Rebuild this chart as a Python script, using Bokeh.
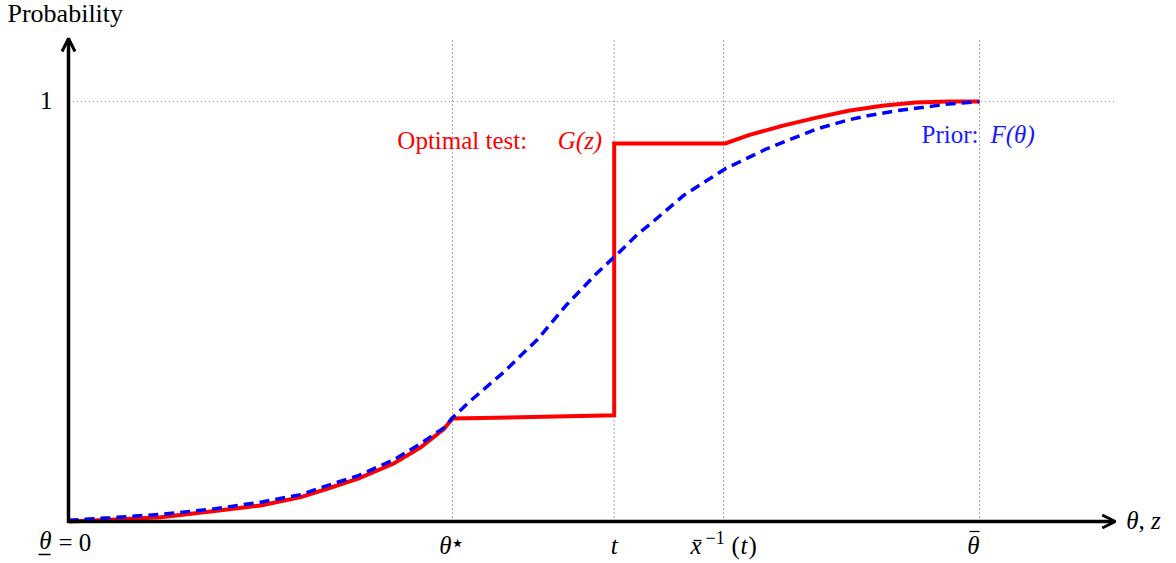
from bokeh.plotting import figure
from bokeh.models import Range1d, Arrow, OpenHead
from bokeh.core.properties import value
from bokeh.embed import file_html
from bokeh.resources import INLINE

# ---- data ----
theta_star = 4.215
t_val = 5.99
xinv_t = 7.19
theta_bar = 10.0
tick_pos = [theta_star, t_val, xinv_t, theta_bar]

# prior F(theta) (blue dashed)
theta_F = [0.0, 0.46, 1.01, 1.56, 2.11, 2.55, 2.84, 3.18, 3.57, 3.87, 4.12, 4.215,
           4.41, 4.775, 5.15, 5.455, 5.785, 6.03, 6.257, 6.39, 6.75, 7.21, 7.67,
           8.22, 8.56, 8.77, 9.15, 9.66, 10.0]
F_vals = [0.003, 0.009, 0.017, 0.029, 0.046, 0.064, 0.0855, 0.109, 0.147, 0.186,
          0.223, 0.247, 0.287, 0.355, 0.434, 0.513, 0.588, 0.638, 0.686, 0.709,
          0.776, 0.84, 0.888, 0.935, 0.956, 0.966, 0.98, 0.994, 1.0]

# optimal test G(z) (red solid)
z_G = [0.0, 0.46, 1.01, 1.56, 2.11, 2.55, 2.84, 3.18, 3.57, 3.87, 4.12, 4.215,
       5.99, 5.99, 7.21, 7.468, 7.834, 8.20, 8.562, 8.932, 9.297, 9.66, 10.0]
G_vals = [0.0, 0.004, 0.01, 0.024, 0.038, 0.058, 0.078, 0.102, 0.138, 0.177,
          0.22, 0.245, 0.253, 0.90, 0.90, 0.92, 0.942, 0.961, 0.978, 0.990,
          0.9976, 1.0, 1.0]

prob_one = 1.0
x_axis_end = 11.49
y_axis_end = 1.15

# ---- layout: px -> data mapping ----
PX_PER_X = 91.1
PX_PER_Y = 420.0
X0_PX, Y0_PX = 68, 521
W, H = 1176, 563


def X(px):
    return (px - X0_PX) / PX_PER_X


def Y(py):
    return (Y0_PX - py) / PX_PER_Y


def dx(px):
    return px / PX_PER_X


def dy(px):
    return px / PX_PER_Y


p = figure(width=W, height=H, output_backend="svg", toolbar_location=None,
           x_range=Range1d(X(0), X(W)), y_range=Range1d(Y(H), Y(0)),
           min_border=0, min_border_left=0, min_border_right=0,
           min_border_top=0, min_border_bottom=0)
p.axis.visible = False
p.grid.visible = False
p.outline_line_color = None
p.background_fill_color = "white"

SERIF = value("Liberation Serif")
FS = "25px"
BL = "alphabetic"
SH = -8  # baseline correction (px)

# dotted guide lines
p.segment(x0=tick_pos, y0=[0] * 4, x1=tick_pos, y1=[y_axis_end] * 4,
          line_color="#555555", line_width=1, line_dash="1 3")
p.segment(x0=[0.05], y0=[prob_one], x1=[x_axis_end], y1=[prob_one],
          line_color="#999999", line_width=1, line_dash="1 3")

# curves
p.line(z_G, G_vals, line_color="#ff0000", line_width=4, line_join="miter")
p.line(theta_F, F_vals, line_color="#0000ff", line_width=3.5, line_dash="10 6")

# axes with arrows
p.add_layout(Arrow(end=OpenHead(size=13, line_width=3, line_color="black"),
                   x_start=0, y_start=0, x_end=x_axis_end, y_end=0,
                   line_width=3.5, line_color="black"))
p.add_layout(Arrow(end=OpenHead(size=13, line_width=3, line_color="black"),
                   x_start=0, y_start=-dy(1.5), x_end=0, y_end=y_axis_end,
                   line_width=3.5, line_color="black"))


def label(x, y, s, xo=0, yo=0, italic=False, align="left", size=FS, color="black",
          font=SERIF, sh=SH):
    p.text(x=[x], y=[y], text=[s], text_font=font,
           text_font_style="italic" if italic else "normal",
           text_font_size=size, text_align=align, text_baseline=BL,
           x_offset=xo, y_offset=yo + sh, text_color=color)


# theta star
label(theta_star, 0, "θ", xo=-7, yo=32, italic=True, align="center")
label(theta_star, 0, "⋆", xo=5, yo=29, align="center", size="24px",
      font=value("DejaVu Sans"))
# t
label(t_val, 0, "t", xo=0, yo=32, italic=True, align="center")
# x bar ^-1 (t)
label(xinv_t, 0, "x", xo=-33, yo=32, italic=True, align="left")
p.segment(x0=[xinv_t - dx(30)], y0=[-dy(19)], x1=[xinv_t - dx(22)], y1=[-dy(19)],
          line_color="black", line_width=1.3)
label(xinv_t, 0, "−1", xo=-18, yo=22, size="18px", align="left", sh=-6)
label(xinv_t, 0, "(", xo=8, yo=32, align="left")
label(xinv_t, 0, "t", xo=17, yo=32, italic=True, align="left")
label(xinv_t, 0, ")", xo=25, yo=32, align="left")
# theta bar
label(theta_bar, 0, "θ", xo=-6, yo=32, italic=True, align="center")
p.segment(x0=[theta_bar - dx(10)], y0=[-dy(10)], x1=[theta_bar + dx(0)], y1=[-dy(10)],
          line_color="black", line_width=1.3)
# underline theta = 0
label(0, 0, "θ", xo=-23, yo=27, italic=True, align="center")
p.segment(x0=[-dx(30)], y0=[-dy(33)], x1=[-dx(18)], y1=[-dy(33)],
          line_color="black", line_width=1.3)
label(0, 0, "= 0", xo=-10, yo=29, align="left")
# x-axis name
label(x_axis_end, 0, "θ, z", xo=11, yo=7, italic=True, align="left")
# y tick "1"
label(0, prob_one, "1", xo=-16, yo=7, align="right")
# y-axis name
label(0, y_axis_end, "Probability", xo=-61, yo=-17, size="26px", align="left")

# series labels
label(t_val, G_vals[13], "Optimal test:", xo=-87, yo=5, align="right", color="#ff0000")
label(t_val, G_vals[13], "G(z)", xo=-12, yo=5, italic=True, align="right", color="#ff0000")
label(theta_bar, prob_one, "Prior:", xo=-1, yo=41, align="right", color="#1a1aff")
label(theta_bar, prob_one, "F(θ)", xo=11, yo=41, italic=True, align="left", color="#1a1aff")

open("out.html", "w").write(file_html(p, INLINE))
